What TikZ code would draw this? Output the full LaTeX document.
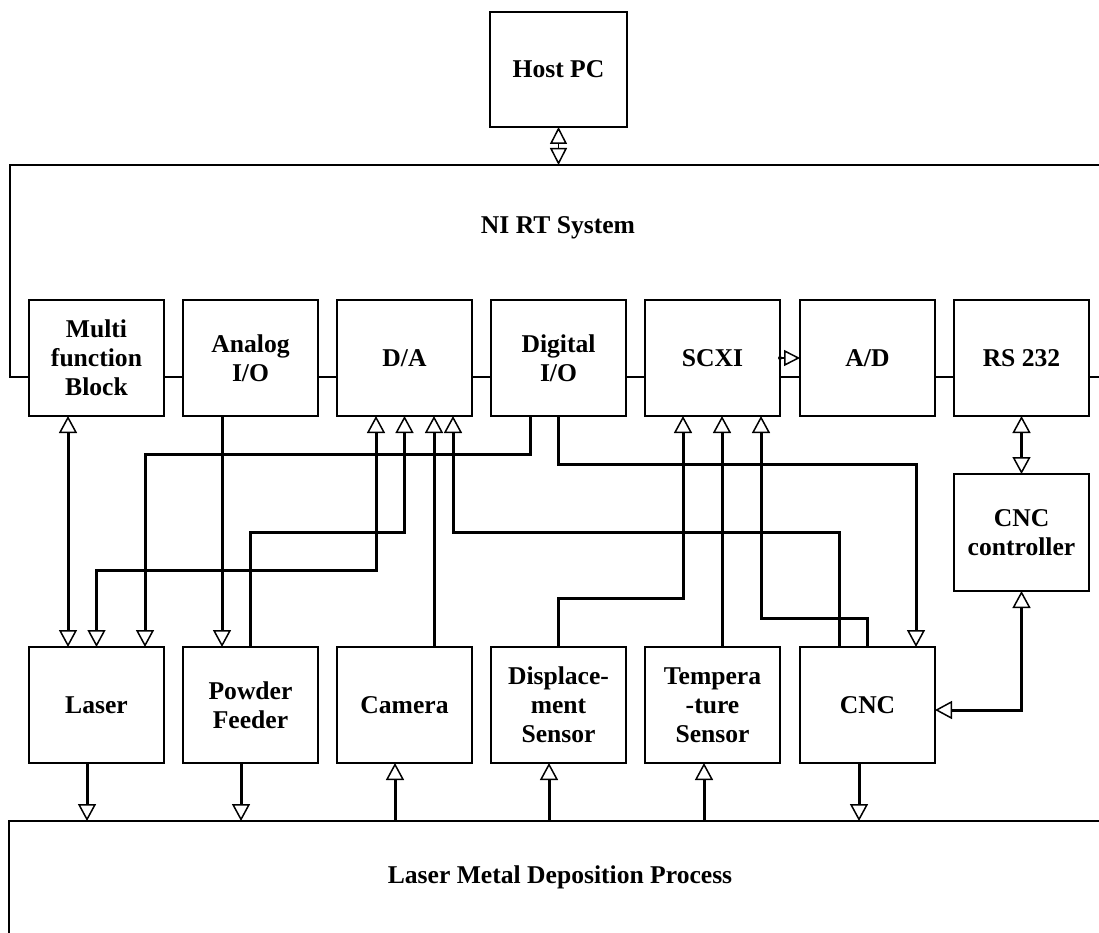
\documentclass[tikz,border=0pt]{standalone}
\usepackage{fontspec}
\setmainfont{Liberation Serif}
\usetikzlibrary{arrows.meta,calc}
\begin{document}
\begin{tikzpicture}[x=1pt,y=-1pt,
  box/.style={draw,line width=1.5pt,minimum width=135pt,minimum height=116pt,inner sep=0pt,outer sep=0pt,align=center,font=\bfseries\fontsize{25.6}{29}\selectfont},
  lbl/.style={font=\bfseries\fontsize{25.6}{29}\selectfont,inner sep=0pt},
  frame/.style={line width=1.5pt},
  conn/.style={line width=3pt,>={Triangle[open,length=17pt,width=18pt,line width=1.5pt]}},
  thinconn/.style={line width=1.4pt,>={Triangle[open,length=17pt,width=17pt,line width=1.5pt]}}]
\useasboundingbox (0,0) rectangle (1099,933);
% Host PC
\node[box,minimum width=137pt,minimum height=115pt] (host) at (558.5,69.5) {Host PC};
% modules
\node[box] (multi)   at (96.5,358)  {Multi\\function\\Block};
\node[box] (analog)  at (250.5,358) {Analog\\I/O};
\node[box] (da)      at (404.5,358) {D/A};
\node[box] (digital) at (558.5,358) {Digital\\I/O};
\node[box] (scxi)    at (712.5,358) {SCXI};
\node[box] (ad)      at (867.5,358) {A/D};
\node[box] (rs)      at (1021.5,358) {RS 232};
% CNC controller
\node[box,minimum height=117pt] (ctrl) at (1021.5,532.5) {CNC\\controller};
% devices
\node[box] (laser)  at (96.5,705)  {Laser};
\node[box] (powder) at (250.5,705) {Powder\\Feeder};
\node[box] (camera) at (404.5,705) {Camera};
\node[box] (disp)   at (558.5,705) {Displace-\\ment\\Sensor};
\node[box] (temp)   at (712.5,705) {Tempera\\-ture\\Sensor};
\node[box] (cnc)    at (867.5,705) {CNC};
% NI RT frame
\coordinate (nitop) at (10,165);
\draw[frame] (1099,165) -- (nitop) -- (10,377) -- ([yshift=-19pt]multi.west);
\draw[frame] ([yshift=-19pt]multi.east) -- ([yshift=-19pt]analog.west);
\draw[frame] ([yshift=-19pt]analog.east) -- ([yshift=-19pt]da.west);
\draw[frame] ([yshift=-19pt]da.east) -- ([yshift=-19pt]digital.west);
\draw[frame] ([yshift=-19pt]digital.east) -- ([yshift=-19pt]scxi.west);
\draw[frame] ([yshift=-19pt]scxi.east) -- ([yshift=-19pt]ad.west);
\draw[frame] ([yshift=-19pt]ad.east) -- ([yshift=-19pt]rs.west);
\draw[frame] ([yshift=-19pt]rs.east) -- (1099,377);
\node[lbl] (nirt) at (558,228) {NI RT System};
% LMD frame
\coordinate (lmdtop) at (9,821);
\draw[frame] (1099,821) -- (lmdtop) -- (9,933);
\node[lbl] (lmd) at (560,877) {Laser Metal Deposition Process};
% Host <-> NI RT
\draw[thinconn,<->] (host.south) -- (host.south |- nitop);
% SCXI -> A/D
\fill (scxi.east) circle (2pt);
\draw[thinconn,->,>={Triangle[open,length=16pt,width=16pt,line width=1.5pt]}] (scxi.east) -- (ad.west);
% module <-> device wiring
\draw[conn,<->] ([xshift=-28.5pt]multi.south) -- ([xshift=-28.5pt]laser.north);
\draw[conn,->] ([xshift=-28.5pt]analog.south) -- ([xshift=-28.5pt]powder.north);
\draw[conn,->] ([xshift=-28.5pt]digital.south) -- ++(0,38) -| ([xshift=48.5pt]laser.north);
\draw[conn,->] (digital.south) -- ++(0,48) -| ([xshift=48.5pt]cnc.north);
\draw[conn,<->] ([xshift=-28.5pt]da.south) -- ++(0,154) -| (laser.north);
\draw[conn,->] (powder.north) -- ++(0,-115) -| (da.south);
\draw[conn,->] ([xshift=29.5pt]camera.north) -- ([xshift=29.5pt]da.south);
\draw[conn,->] ([xshift=-28.5pt]cnc.north) -- ++(0,-115) -| ([xshift=48.5pt]da.south);
\draw[conn,->] (disp.north) -- ++(0,-49) -| ([xshift=-29.5pt]scxi.south);
\draw[conn,->] ([xshift=9.5pt]temp.north) -- ([xshift=9.5pt]scxi.south);
\draw[conn,->] (cnc.north) -- ++(0,-29) -| ([xshift=48.5pt]scxi.south);
% RS232 <-> controller <-> CNC
\draw[conn,<->] (rs.south) -- (ctrl.north);
\draw[conn,<->] (ctrl.south) |- ([yshift=-5pt]cnc.east);
% devices <-> process
\draw[conn,->] ([xshift=-9.5pt]laser.south) -- ([xshift=-9.5pt]laser.south |- lmdtop);
\draw[conn,->] ([xshift=-9.5pt]powder.south) -- ([xshift=-9.5pt]powder.south |- lmdtop);
\draw[conn,<-] ([xshift=-9.5pt]camera.south) -- ([xshift=-9.5pt]camera.south |- lmdtop);
\draw[conn,<-] ([xshift=-9.5pt]disp.south) -- ([xshift=-9.5pt]disp.south |- lmdtop);
\draw[conn,<-] ([xshift=-8.5pt]temp.south) -- ([xshift=-8.5pt]temp.south |- lmdtop);
\draw[conn,->] ([xshift=-8.5pt]cnc.south) -- ([xshift=-8.5pt]cnc.south |- lmdtop);
\end{tikzpicture}
\end{document}
